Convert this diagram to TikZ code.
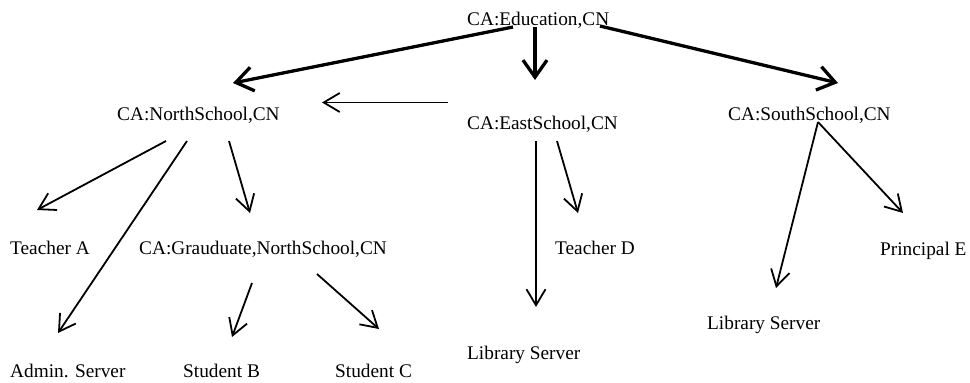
\documentclass[tikz,border=0pt]{standalone}
\usepackage{fontspec}
\setmainfont{Liberation Serif}
\usetikzlibrary{arrows.meta}
\begin{document}
\begin{tikzpicture}[x=1pt,y=-1pt,
  lbl/.style={anchor=base west,inner sep=0pt,font=\fontsize{19.3pt}{22pt}\selectfont},
  thinarrow/.style={line width=1.8pt,-{Straight Barb[length=16pt,width=19pt]}},
  thickarrow/.style={line width=3.3pt,-{Straight Barb[length=17pt,width=24pt]}}]
\useasboundingbox (0,0) rectangle (970,383);
% nodes
\node[lbl] (edu) at (467,25) {CA:Education,CN};
\node[lbl] (north) at (117,120) {CA:NorthSchool,CN};
\node[lbl] (east) at (467,129) {CA:EastSchool,CN};
\node[lbl] (south) at (728,120) {CA:SouthSchool,CN};
\node[lbl] (ta) at (10,254) {Teacher A};
\node[lbl] (grad) at (139,254) {CA:Grauduate,NorthSchool,CN};
\node[lbl] (admin) at (10,377) {Admin. Server};
\node[lbl] (sb) at (183,377) {Student B};
\node[lbl] (sc) at (335,377) {Student C};
\node[lbl] (td) at (555,254) {Teacher D};
\node[lbl] (libe) at (467,359) {Library Server};
\node[lbl] (libs) at (707,329) {Library Server};
\node[lbl] (pe) at (880,255) {Principal E};
% connector end points
\coordinate (eduN) at (513,27);
\coordinate (eduE) at (535,27);
\coordinate (eduS) at (600,26);
\coordinate (northIn) at (233,83);
\coordinate (eastIn) at (535,80);
\coordinate (southIn) at (838,83);
\coordinate (eastW) at (448,102.5);
\coordinate (northE) at (322,102.5);
\coordinate (northA) at (166,141);
\coordinate (northB) at (187,141);
\coordinate (northC) at (229,141);
\coordinate (taIn) at (37,210);
\coordinate (adminIn) at (58,333);
\coordinate (gradIn) at (250,213);
\coordinate (gradB) at (252,283);
\coordinate (gradC) at (317,274);
\coordinate (sbIn) at (232,337);
\coordinate (scIn) at (379,329);
\coordinate (eastA) at (536,141);
\coordinate (eastB) at (557,141);
\coordinate (libeIn) at (536,307);
\coordinate (tdIn) at (578,213);
\coordinate (southA) at (818,122);
\coordinate (libsIn) at (776,288);
\coordinate (peIn) at (903,213);
% connectors
\draw[thickarrow] (eduN) -- (northIn);
\draw[thickarrow] (eduE) -- (eastIn);
\draw[thickarrow] (eduS) -- (southIn);
\draw[thinarrow] (eastW) -- (northE);
\draw[thinarrow] (northA) -- (taIn);
\draw[thinarrow] (northB) -- (adminIn);
\draw[thinarrow] (northC) -- (gradIn);
\draw[thinarrow] (gradB) -- (sbIn);
\draw[thinarrow] (gradC) -- (scIn);
\draw[thinarrow] (eastA) -- (libeIn);
\draw[thinarrow] (eastB) -- (tdIn);
\draw[thinarrow] (southA) -- (libsIn);
\draw[thinarrow] (southA) -- (peIn);
\end{tikzpicture}
\end{document}
